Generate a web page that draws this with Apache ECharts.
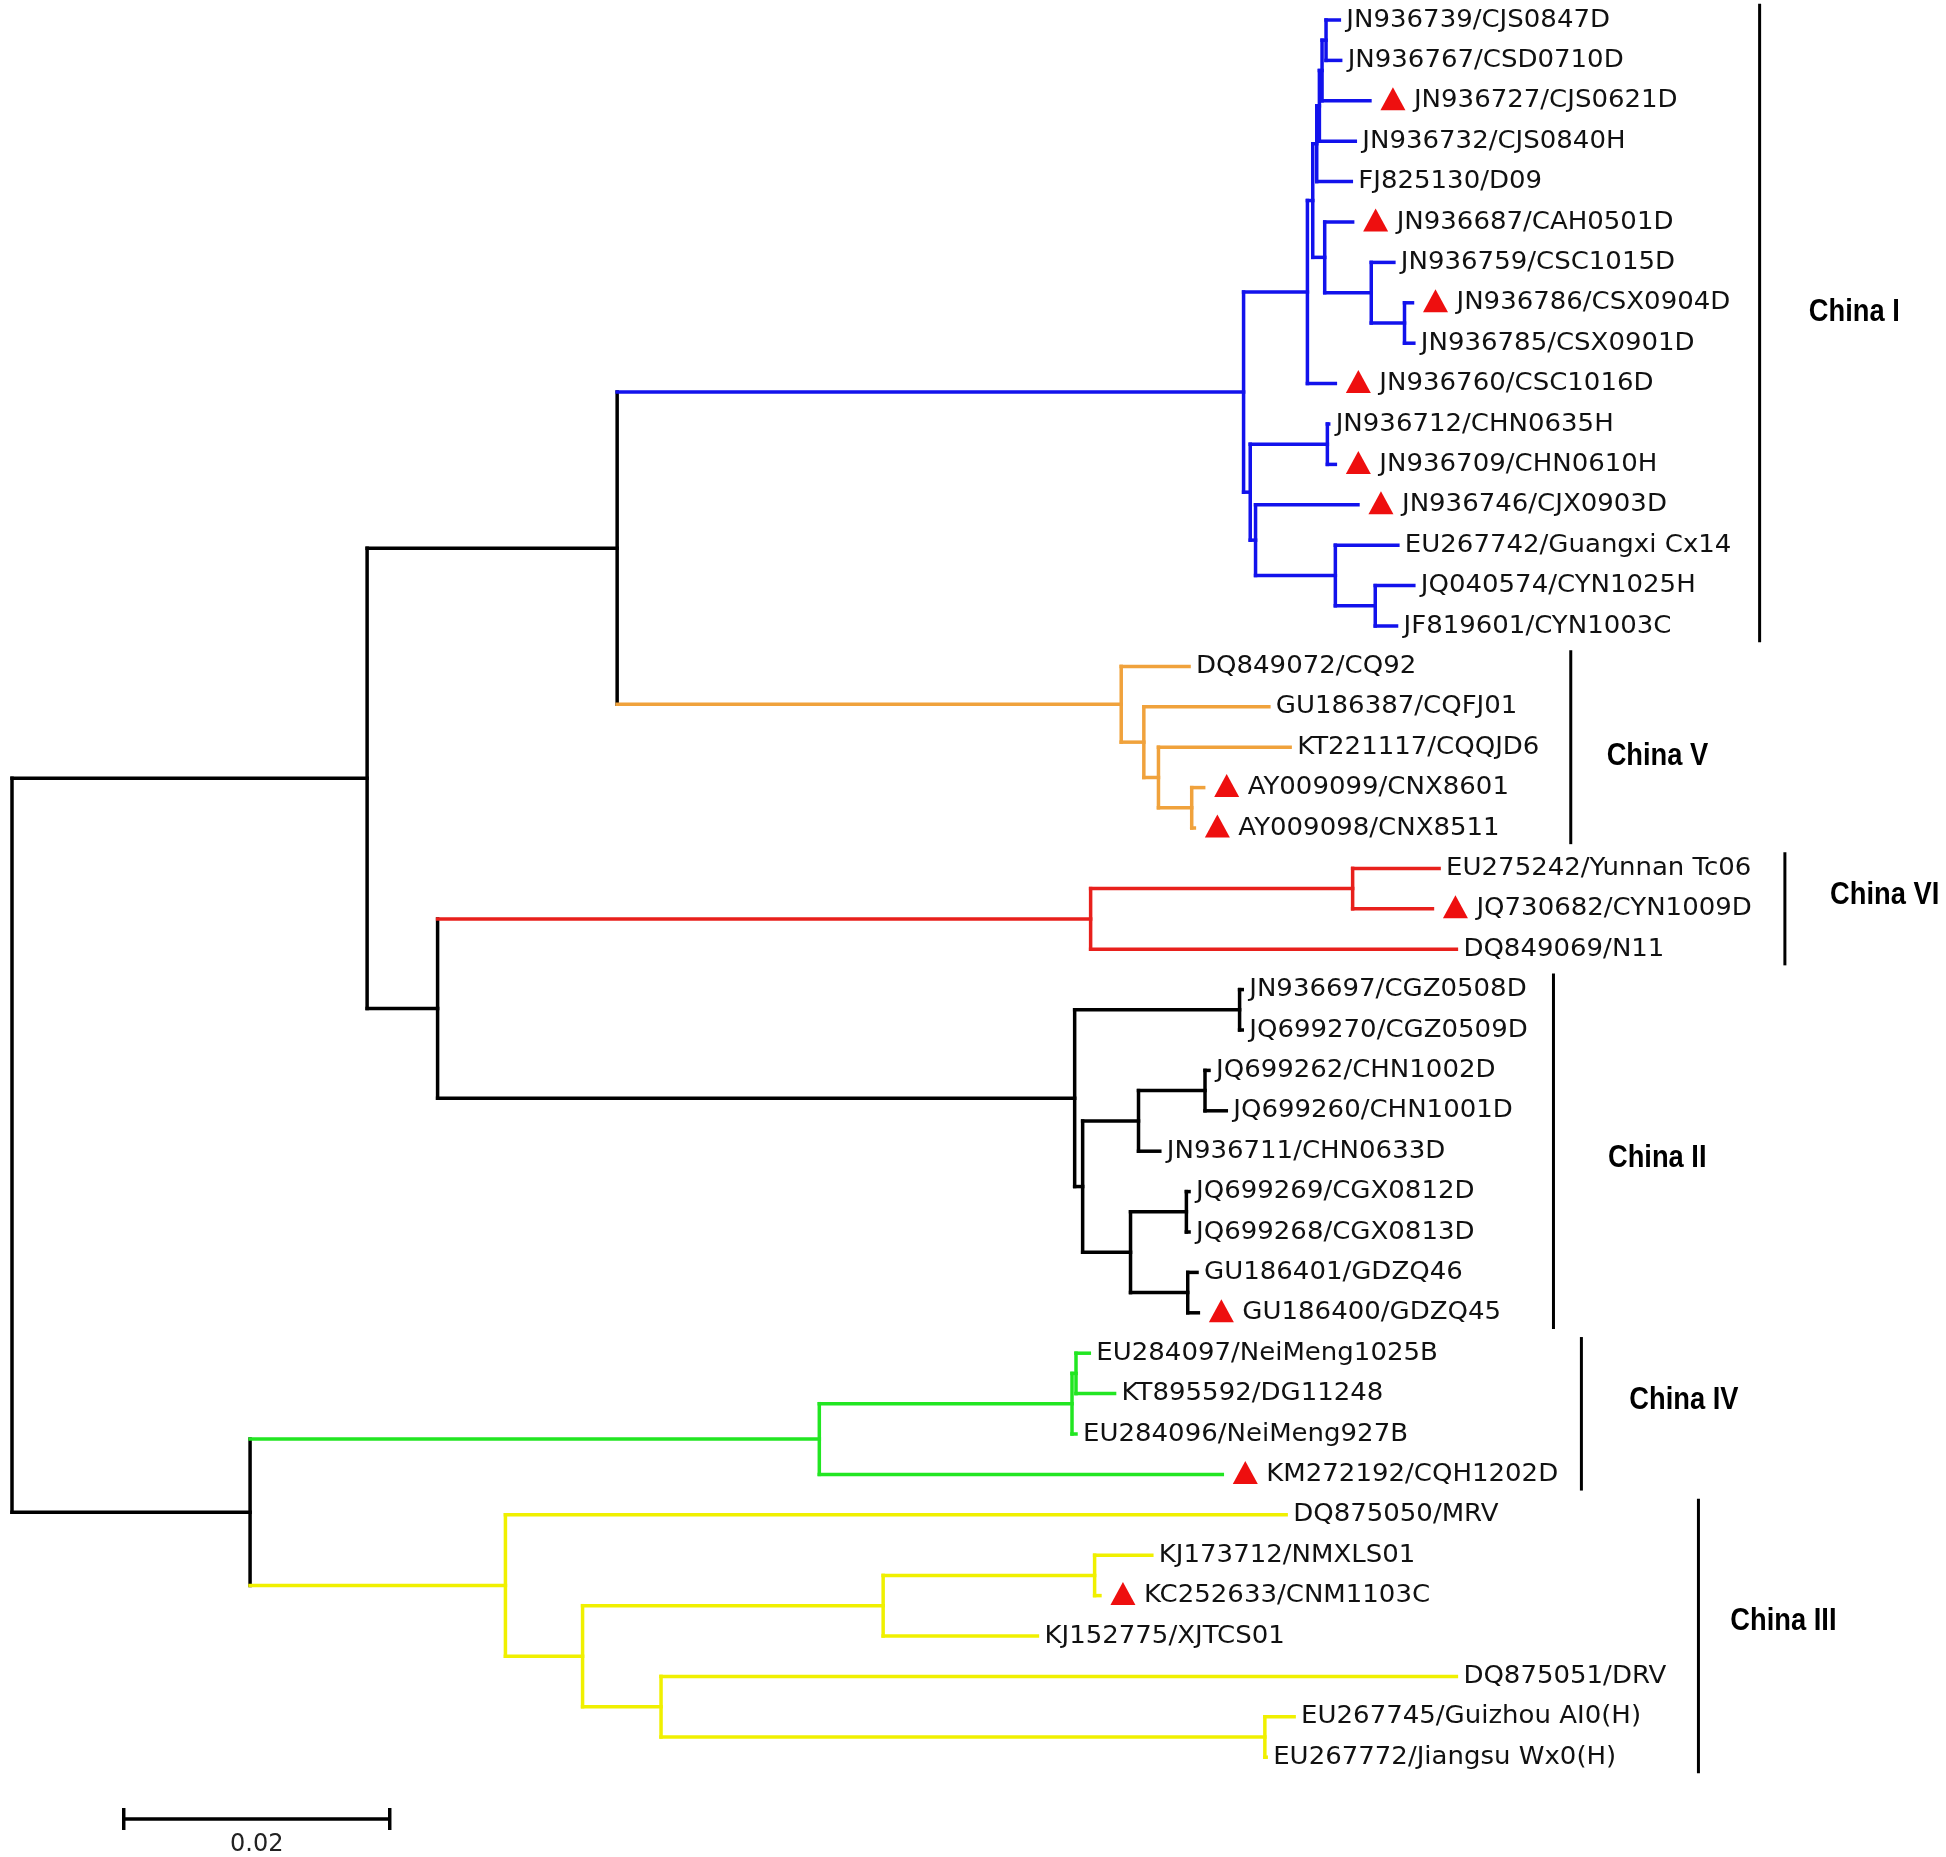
<!DOCTYPE html>
<html>
<head>
<meta charset="utf-8">
<script src="https://cdn.jsdelivr.net/npm/echarts@6.0.0/dist/echarts.min.js"></script>
<style>
  html, body { margin: 0; padding: 0; background: #fff; }
  #main { width: 1946px; height: 1857px; }
</style>
</head>
<body>
<div id="main"></div>
<script>
// tips, top to bottom
const leafNames = [
  'JN936739/CJS0847D', 'JN936767/CSD0710D', 'JN936727/CJS0621D', 'JN936732/CJS0840H',
  'FJ825130/D09', 'JN936687/CAH0501D', 'JN936759/CSC1015D', 'JN936786/CSX0904D',
  'JN936785/CSX0901D', 'JN936760/CSC1016D', 'JN936712/CHN0635H', 'JN936709/CHN0610H',
  'JN936746/CJX0903D', 'EU267742/Guangxi Cx14', 'JQ040574/CYN1025H', 'JF819601/CYN1003C',
  'DQ849072/CQ92', 'GU186387/CQFJ01', 'KT221117/CQQJD6', 'AY009099/CNX8601', 'AY009098/CNX8511',
  'EU275242/Yunnan Tc06', 'JQ730682/CYN1009D', 'DQ849069/N11',
  'JN936697/CGZ0508D', 'JQ699270/CGZ0509D', 'JQ699262/CHN1002D', 'JQ699260/CHN1001D',
  'JN936711/CHN0633D', 'JQ699269/CGX0812D', 'JQ699268/CGX0813D', 'GU186401/GDZQ46', 'GU186400/GDZQ45',
  'EU284097/NeiMeng1025B', 'KT895592/DG11248', 'EU284096/NeiMeng927B', 'KM272192/CQH1202D',
  'DQ875050/MRV', 'KJ173712/NMXLS01', 'KC252633/CNM1103C', 'KJ152775/XJTCS01', 'DQ875051/DRV',
  'EU267745/Guizhou AI0(H)', 'EU267772/Jiangsu Wx0(H)'
]
// distance of each tip from the root
const leafDist = [
  0.0998, 0.0999, 0.1021, 0.1010, 0.1007, 0.1008, 0.1039, 0.1053, 0.1054, 0.0995, 0.0990,
  0.0995, 0.1012, 0.1042, 0.1054, 0.1041, 0.0885, 0.0945, 0.0961, 0.0896, 0.0889, 0.1073,
  0.1068, 0.1086, 0.0925, 0.0925, 0.0900, 0.0913, 0.0863, 0.0885, 0.0885, 0.0891, 0.0892,
  0.0810, 0.0829, 0.0800, 0.0910, 0.0958, 0.0857, 0.0818, 0.0771, 0.1086, 0.0964, 0.0943
]
// internal node each tip hangs from
const leafParent = [
  9, 9, 8, 7, 6, 10, 11, 12, 12, 4, 14, 14, 15, 16, 17, 17, 18, 19, 20, 21, 21, 24, 24, 23,
  26, 26, 29, 29, 28, 31, 31, 32, 32, 36, 36, 35, 34, 37, 40, 40, 39, 41, 42, 42
]
// tips marked with a red triangle
const markedLeaves = [2, 5, 7, 9, 11, 12, 19, 20, 22, 32, 36, 39]

// internal nodes (0 = root)
const nodeDist = [
  0, 0.0267, 0.0455, 0.0926, 0.0974, 0.0978, 0.0981, 0.0983, 0.0985, 0.0988, 0.0987,
  0.1022, 0.1047, 0.0931, 0.0989, 0.0935, 0.0995, 0.1025, 0.0834, 0.0851, 0.0862, 0.0887,
  0.0320, 0.0811, 0.1008, 0.0799, 0.0923, 0.0805, 0.0847, 0.0897, 0.0841, 0.0883, 0.0884,
  0.0179, 0.0607, 0.0797, 0.0800, 0.0371, 0.0429, 0.0655, 0.0814, 0.0488, 0.0942
]
const nodeParent = [
  -1, 0, 1, 2, 3, 4, 5, 6, 7, 8, 5, 10, 11, 3, 13, 13, 15, 16, 2, 18, 19, 20,
  1, 22, 23, 22, 25, 25, 27, 28, 27, 30, 30, 0, 33, 34, 35, 33, 37, 38, 39, 38, 41
]
const nodeClade = [
  'k', 'k', 'k', 'b', 'b', 'b', 'b', 'b', 'b', 'b', 'b', 'b', 'b', 'b', 'b', 'b', 'b', 'b',
  'o', 'o', 'o', 'o', 'k', 'r', 'r', 'k', 'k', 'k', 'k', 'k', 'k', 'k', 'k',
  'k', 'g', 'g', 'g', 'y', 'y', 'y', 'y', 'y', 'y'
]

// clade brackets
const cladeNames = ['China I', 'China V', 'China VI', 'China II', 'China IV', 'China III']
const cladeFirst = [0, 16, 21, 24, 33, 37]
const cladeLast = [15, 20, 23, 32, 36, 43]
const scaleBarLength = 0.02

// layout of the brackets (axis units)
const cladeBarX = [0.1314, 0.1172, 0.1333, 0.1159, 0.1180, 0.1268]
const cladeLabelX = [0.1351, 0.1199, 0.1367, 0.1200, 0.1216, 0.1292]
const cladeLabelY = [7.25, 18.23, 21.68, 28.18, 34.17, 39.64]

const colors = { k: '#000000', b: '#1212ec', o: '#f0a23c', r: '#e8201c', g: '#22e622', y: '#f0f000' }
const colorKeys = Object.keys(colors)

// node y = middle of its outermost children
const kids = nodeDist.map(() => [])
nodeParent.forEach((p, i) => { if (p >= 0) kids[p].push({ node: i }) })
leafParent.forEach((p, i) => kids[p].push({ leaf: i }))
const nodeY = []
function yOf(c) {
  if (c.leaf !== undefined) return c.leaf
  if (nodeY[c.node] === undefined) {
    const ys = kids[c.node].map(yOf)
    nodeY[c.node] = (Math.min(...ys) + Math.max(...ys)) / 2
  }
  return nodeY[c.node]
}
yOf({ node: 0 })

const segments = []
leafParent.forEach((p, i) => {
  segments.push([nodeDist[p], i, leafDist[i], i, colorKeys.indexOf(nodeClade[p])])
})
nodeParent.forEach((p, i) => {
  const c = colorKeys.indexOf(nodeClade[i])
  if (p >= 0) segments.push([nodeDist[p], nodeY[i], nodeDist[i], nodeY[i], c])
  const ys = kids[i].map(yOf)
  segments.push([nodeDist[i], Math.min(...ys), nodeDist[i], Math.max(...ys), c])
})

const chart = echarts.init(document.getElementById('main'))
const labelFont = "'DejaVu Sans', Verdana, sans-serif"
const cladeFont = "'Liberation Sans', Arial, sans-serif"

chart.setOption({
  animation: false,
  backgroundColor: '#ffffff',
  grid: { left: 12, right: 72, top: 20, bottom: 19 },
  xAxis: { type: 'value', min: 0, max: 0.14, show: false },
  yAxis: { type: 'value', min: 0, max: 45, inverse: true, show: false },
  series: [
    {
      type: 'custom',
      clip: false,
      data: segments,
      renderItem(params, api) {
        const a = api.coord([api.value(0), api.value(1)])
        const b = api.coord([api.value(2), api.value(3)])
        return {
          type: 'line',
          shape: { x1: a[0], y1: a[1], x2: b[0], y2: b[1] },
          style: { stroke: colors[colorKeys[api.value(4)]], lineWidth: 3.5, lineCap: 'square' }
        }
      }
    },
    {
      type: 'scatter',
      data: markedLeaves.map(i => [leafDist[i], i]),
      symbol: 'triangle',
      symbolSize: [25, 23],
      symbolOffset: [23, -2],
      itemStyle: { color: '#ee0f0f', opacity: 1 }
    },
    {
      type: 'custom',
      clip: false,
      data: leafNames.map((n, i) => [leafDist[i], i]),
      renderItem(params, api) {
        const i = params.dataIndex
        const p = api.coord([api.value(0), api.value(1)])
        const off = markedLeaves.includes(i) ? 44 : 7
        return {
          type: 'text',
          x: p[0] + off,
          y: p[1],
          scaleX: 1.04,
          style: {
            text: leafNames[i], fill: '#111', fontSize: 25, fontFamily: labelFont,
            align: 'left', verticalAlign: 'middle'
          }
        }
      }
    },
    {
      type: 'custom',
      clip: false,
      data: cladeNames.map((n, i) => [cladeBarX[i], cladeFirst[i] - 0.4, cladeLast[i] + 0.4, cladeLabelX[i], cladeLabelY[i]]),
      renderItem(params, api) {
        const i = params.dataIndex
        const a = api.coord([api.value(0), api.value(1)])
        const b = api.coord([api.value(0), api.value(2)])
        const t = api.coord([api.value(3), api.value(4)])
        return {
          type: 'group',
          children: [
            { type: 'line', shape: { x1: a[0], y1: a[1], x2: b[0], y2: b[1] }, style: { stroke: '#000', lineWidth: 3 } },
            {
              type: 'text', x: t[0], y: t[1], scaleX: 0.88,
              style: {
                text: cladeNames[i], fill: '#000', fontSize: 31, fontWeight: 'bold', fontFamily: cladeFont,
                align: 'left', verticalAlign: 'middle'
              }
            }
          ]
        }
      }
    },
    {
      type: 'custom',
      clip: false,
      data: [[0.0084, 44.53, scaleBarLength]],
      renderItem(params, api) {
        const a = api.coord([api.value(0), api.value(1)])
        const b = api.coord([api.value(0) + api.value(2), api.value(1)])
        return {
          type: 'group',
          children: [
            { type: 'line', shape: { x1: a[0], y1: a[1], x2: b[0], y2: b[1] }, style: { stroke: '#000', lineWidth: 3.5 } },
            { type: 'line', shape: { x1: a[0], y1: a[1] - 11, x2: a[0], y2: a[1] + 11 }, style: { stroke: '#000', lineWidth: 3.5 } },
            { type: 'line', shape: { x1: b[0], y1: b[1] - 11, x2: b[0], y2: b[1] + 11 }, style: { stroke: '#000', lineWidth: 3.5 } },
            {
              type: 'text', x: (a[0] + b[0]) / 2, y: a[1] + 26,
              style: {
                text: String(scaleBarLength), fill: '#222', fontSize: 24, fontFamily: labelFont,
                align: 'center', verticalAlign: 'middle'
              }
            }
          ]
        }
      }
    }
  ]
})
</script>
</body>
</html>
